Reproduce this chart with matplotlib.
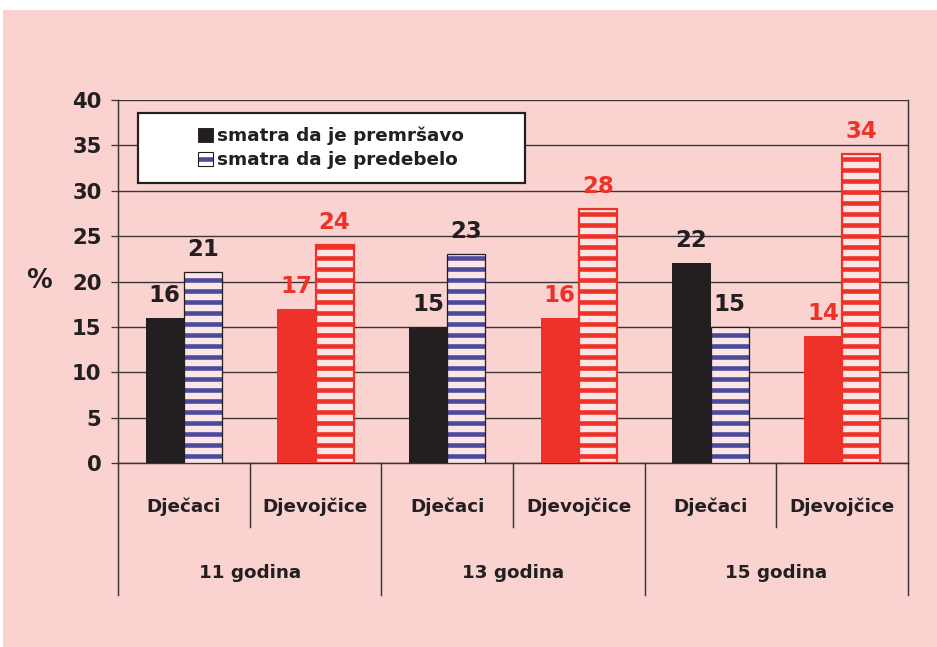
import matplotlib.pyplot as plt
from matplotlib.patches import Patch, Rectangle
import numpy as np

# data
ages = ['11 godina', '13 godina', '15 godina']
groups = ['Dječaci', 'Djevojčice'] * 3
premrsavo = [16, 17, 15, 16, 22, 14]
predebelo = [21, 24, 23, 28, 15, 34]
series_names = ['smatra da je premršavo', 'smatra da je predebelo']

pink = '#FAD3D1'
black = '#231F20'
red = '#EE3129'
blue = '#4B4A9C'
light = '#FCE6E5'
line = '#3A3536'

DPI = 66
plt.rcParams['hatch.linewidth'] = 5.0

fig = plt.figure(figsize=(937 / DPI, 647 / DPI), dpi=DPI, facecolor='white')
fig.patches.append(Rectangle((3 / 937, 0), 1, 1 - 10 / 647, transform=fig.transFigure,
                             facecolor=pink, edgecolor='none', zorder=-10))

ax = fig.add_axes([118 / 937, 1 - 463 / 647, 790 / 937, 363 / 647])
ax.set_facecolor(pink)

w = 0.29
x = np.arange(len(groups)) + 0.5
is_girl = np.array([g == 'Djevojčice' for g in groups])

for i in range(len(groups)):
    c = red if is_girl[i] else black
    ax.bar(x[i] - w, premrsavo[i], w, align='edge', color=c, edgecolor=c, linewidth=0, zorder=3)
    if is_girl[i]:
        ax.bar(x[i], predebelo[i], w, align='edge', facecolor=light, edgecolor=red,
               hatch='-', linewidth=2.4, zorder=3)
    else:
        ax.bar(x[i], predebelo[i], w, align='edge', facecolor=light, edgecolor=blue,
               hatch='-', linewidth=0, zorder=3)
        ax.bar(x[i], predebelo[i], w, align='edge', fill=False, edgecolor=black,
               linewidth=1.4, zorder=4)
    lbl = dict(ha='center', va='bottom', fontsize=25, fontweight='heavy',
               family='DejaVu Sans', color=c, textcoords='offset points', xytext=(0, 12))
    ax.annotate(str(premrsavo[i]), (x[i] - w / 2, premrsavo[i]), **lbl)
    ax.annotate(str(predebelo[i]), (x[i] + w / 2, predebelo[i]), **lbl)

ax.set_xlim(0, 6)
ax.set_ylim(0, 40)
ax.set_yticks(range(0, 41, 5))
ax.set_xticks([])
ax.yaxis.grid(True, color=line, linewidth=1.5, zorder=0)
ax.set_axisbelow(True)
ax.tick_params(axis='y', length=8, width=1.4, color=line, pad=10)
for t in ax.get_yticklabels():
    t.set_fontsize(23)
    t.set_fontweight('heavy')
    t.set_family('DejaVu Sans')
    t.set_color(black)
for s in ax.spines.values():
    s.set_color(line)
    s.set_linewidth(1.6)
ax.spines['top'].set_visible(False)

ax.text(-0.1, 0.5, '%', transform=ax.transAxes, fontsize=28, fontweight='bold',
        family='DejaVu Sans', color=black, ha='center', va='center')

# category table below the axis
tb = ax.get_xaxis_transform()
for xv in range(0, 7):
    y_end = -0.364 if xv % 2 == 0 else -0.176
    ax.plot([xv, xv], [0, y_end], transform=tb, color=line, linewidth=1.6, clip_on=False)
for i, g in enumerate(groups):
    ax.text(x[i], -0.121, g, transform=tb, ha='center', va='center', fontsize=20,
            fontweight='bold', family='DejaVu Sans', color=black)
for j, a in enumerate(ages):
    ax.text(2 * j + 1, -0.303, a, transform=tb, ha='center', va='center', fontsize=20,
            fontweight='bold', family='DejaVu Sans', color=black)

# legend box
ax.add_patch(Rectangle((0.025, 0.771), 0.49, 0.193, transform=ax.transAxes,
                       facecolor='white', edgecolor=black, linewidth=2.4, zorder=5))
h1 = Patch(facecolor=black, edgecolor=black)
h2a = Patch(facecolor='white', edgecolor=blue, hatch='-', linewidth=0)
h2b = Patch(fill=False, edgecolor=black, linewidth=1.2)
leg = ax.legend([h1, (h2a, h2b)], series_names, loc='center', bbox_to_anchor=(0.27, 0.868),
                frameon=False, handlelength=0.8, handleheight=0.8, handletextpad=0.25,
                labelspacing=0.3, prop={'family': 'DejaVu Sans', 'weight': 'bold', 'size': 20})
leg.set_zorder(6)
for t in leg.get_texts():
    t.set_color(black)

fig.savefig('out.png', dpi=DPI, facecolor=fig.get_facecolor())
